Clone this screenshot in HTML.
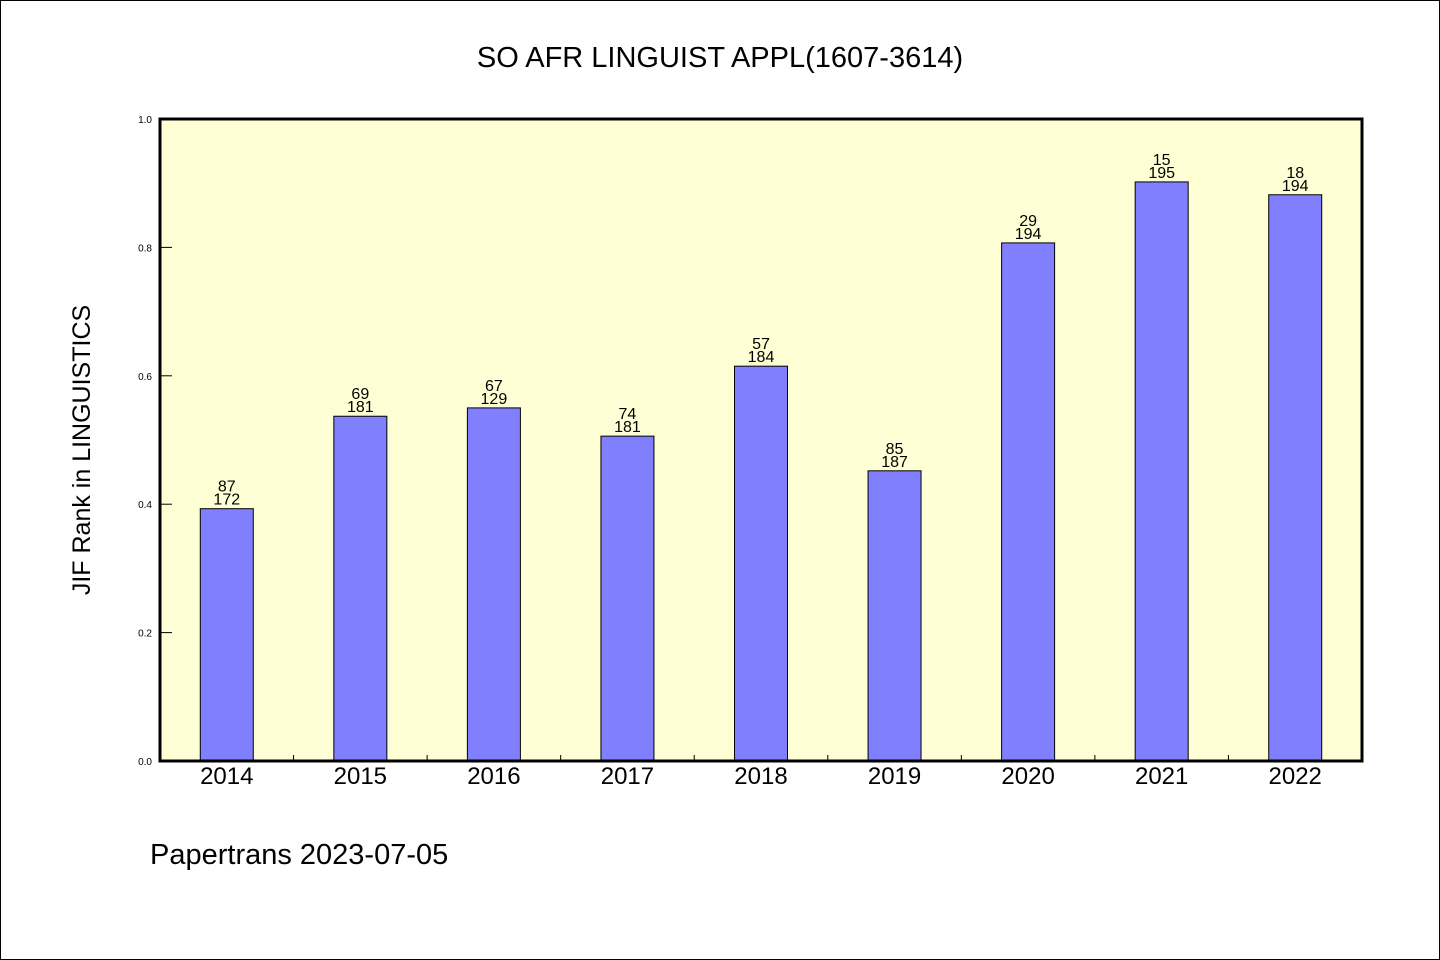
<!DOCTYPE html>
<html><head><meta charset="utf-8"><style>
html,body{margin:0;padding:0;background:#fff}
svg{display:block}
text{font-family:"WenQuanYi Zen Hei","Liberation Sans",sans-serif}
</style></head><body>
<svg id="chart" width="1440" height="960" xmlns="http://www.w3.org/2000/svg">
<rect x="0.5" y="0.5" width="1439" height="959" fill="#fff" stroke="#000" stroke-width="1"/>
<text x="720" y="67" font-size="29" text-anchor="middle">SO AFR LINGUIST APPL(1607-3614)</text>
<rect x="160" y="119" width="1202" height="642" fill="#ffffd5"/>
<g id="bars"></g>
<g id="ticks"></g>
<rect x="160" y="119" width="1202" height="642" fill="none" stroke="#000" stroke-width="3"/>
<text transform="translate(90,450) rotate(-90)" font-size="25" text-anchor="middle">JIF Rank in LINGUISTICS</text>
<text x="150" y="864" font-size="29">Papertrans 2023-07-05</text>
</svg>
<script>
const categories=["2014","2015","2016","2017","2018","2019","2020","2021","2022"];
const values=[0.393,0.537,0.550,0.506,0.615,0.452,0.807,0.902,0.882];
const ranks=["87","69","67","74","57","85","29","15","18"];
const totals=["172","181","129","181","184","187","194","195","194"];
const yTicks=[0,0.2,0.4,0.6,0.8,1.0];
const yTickLabels=["0.0","0.2","0.4","0.6","0.8","1.0"];
const NS="http://www.w3.org/2000/svg";
const L=160,R=1362,T=119,B=761;
const band=(R-L)/categories.length;
function x(i){return L+band*(i+0.5);}
function y(v){return B-(B-T)*v;}
function mk(tag,attrs,parent){const e=document.createElementNS(NS,tag);for(const k in attrs)e.setAttribute(k,attrs[k]);parent.appendChild(e);return e;}
const bars=document.getElementById('bars'),ticks=document.getElementById('ticks');
const bw=53;
values.forEach((v,i)=>{
  const r=mk('rect',{x:x(i)-bw/2,y:y(v),width:bw,height:B-y(v),fill:'#8080ff',stroke:'#000','stroke-width':1},bars);
  
  
  const t1=mk('text',{x:x(i),y:y(v)-17,'font-size':16,'text-anchor':'middle'},bars);t1.textContent=ranks[i];
  
  
  const t2=mk('text',{x:x(i),y:y(v)-4,'font-size':16,'text-anchor':'middle'},bars);t2.textContent=totals[i];
  
  
  const xl=mk('text',{x:x(i),y:784,'font-size':24,'text-anchor':'middle'},ticks);xl.textContent=categories[i];
  
  
  if(i>0){const tk=mk('line',{x1:L+band*i,x2:L+band*i,y1:B,y2:B-6,stroke:'#000','stroke-width':1},ticks);
  
  }
});
yTicks.forEach((v,i)=>{
  if(v>0&&v<1){const tk=mk('line',{x1:L,x2:L+12,y1:y(v),y2:y(v),stroke:'#000','stroke-width':1},ticks);
  
  }
  const t=mk('text',{x:152,y:y(v)+4,'font-size':10,'text-anchor':'end'},ticks);t.textContent=yTickLabels[i];
  
  
});
</script>
</body></html>
